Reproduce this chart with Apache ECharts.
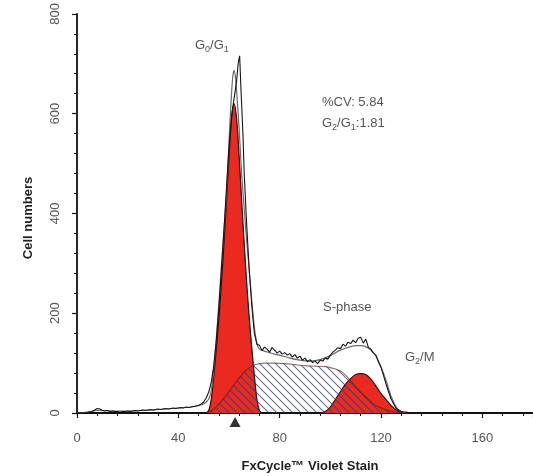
<!DOCTYPE html>
<html><head><meta charset="utf-8">
<script src="https://cdn.jsdelivr.net/npm/echarts@6/dist/echarts.min.js"></script>
<style>html,body{margin:0;padding:0;background:#fff}#c{width:533px;height:476px}</style>
</head><body><div id="c"></div>
<script>
// ---- data ----
const rawData = [[0,0],[2,0],[4,1],[5,2],[6,3],[7,6],[8,9],[9,8],[10,5],[11,4],[12,5],[13,3],[14,4],[15,3],[16,3],[17,2],[18,3],[19,3],[20,4],[21,3],[22,4],[23,5],[24,4],[25,5],[26,6],[27,5],[28,6],[29,7],[30,6],[31,7],[32,8],[33,7],[34,8],[35,9],[36,8],[37,9],[38,10],[39,9],[40,10],[41,11],[42,10],[43,12],[44,11],[45,12],[46,13],[47,14],[48,15],[49,18],[50,22],
[51,30],[52,42],[53,62],[54,95],[55,145],[56,210],[57,285],[58,365],[59,450],[60,530],[61,595],[62,630],[63,665],[63.6,700],[64.2,716],[64.8,640],[65.5,560],[66,480],[67,375],[68,285],[69,215],[70,160],[71,138],
[72,136],[73,125],[74,132],[75,128],[76,122],[77,131],[78,126],[79,120],[80,124],[81,118],[82,121],[83,116],[84,119],[85,112],[86,117],[87,110],[88,114],[89,106],[90,110],[91,103],[92,107],[93,101],[94,104],[95,99],[96,106],[97,104],[98,110],[99,108],[100,116],[101,122],[102,126],[103,131],[104,129],[105,138],[106,134],[107,142],[108,139],[109,146],[110,141],[111,150],[112,152],[113,140],[114,148],[115,132],[116,128],[117,120],[118,116],[119,102],[120,92],[121,75],[122,58],[123,42],[124,28],[125,18],[126,9],[127,5],[128,3],[129,2],[130,2],[131,1],[132,0]];

const modelFit = [[0,0],[4,2],[8,5],[10,5],[15,4],[20,4],[25,5],[30,6],[35,8],[40,10],[45,12],[48,15],[50,18],[51,22],[52,28],[53,45],[54,90],[55,150],[56,220],[57,295],[58,365],[59,440],[60,545],[61,640],[61.5,675],[62,687],[62.5,675],[63,645],[64,570],[65,478],[66,410],[67,345],[68,285],[69,225],[70,172],[71,140],[72,128],[74,124],[76,121],[78,118],[80,116],[84,110],[88,106],[92,104],[96,107],[100,115],[104,126],[108,133],[110,135],[112,135],[114,133],[116,126],[118,114],[120,92],[122,65],[124,33],[126,12],[128,3],[130,0]];

const g1Peak = [[51,0],[52,5],[53,28],[54,75],[55,130],[56,190],[57,260],[58,340],[59,425],[60,515],[61,590],[62,620],[63,590],[64,515],[65,425],[66,340],[67,260],[68,190],[69,130],[70,75],[71,28],[72,5],[73,0]];

const sPhase = [[50,0],[52,2],[54,8],[56,18],[58,30],[60,43],[62,57],[64,70],[66,82],[68,91],[70,96],[72,99],[74,100],[78,100],[82,99],[86,97],[90,95],[94,94],[98,93],[100,91],[102,88],[104,84],[106,76],[108,65],[110,53],[112,42],[114,32],[116,23],[118,15],[120,10],[122,6],[124,3],[126,1],[128,0]];

const g2Peak = [[96,0],[98,3],[100,12],[102,27],[104,43],[106,58],[108,69],[110,77],[112,79],[114,77],[116,68],[118,54],[120,39],[122,27],[124,15],[126,6],[128,1],[130,0]];

const markerX = 62.4;
const xRange = [0, 180, 40];
const yRange = [0, 800, 200];
const cvText = '%CV: 5.84';
const ratioText = '1.81';

// ---- chart ----
function hatch(){
  const s = 8, c = document.createElement('canvas');
  c.width = s; c.height = s;
  const g = c.getContext('2d');
  g.strokeStyle = 'rgba(55,60,100,0.75)'; g.lineWidth = 1.1;
  g.beginPath();
  g.moveTo(-1,-1); g.lineTo(s+1,s+1);
  g.moveTo(-1,s-1); g.lineTo(1,s+1);
  g.moveTo(s-1,-1); g.lineTo(s+1,1);
  g.stroke();
  return c;
}
const FONT = '"Liberation Sans", Arial, sans-serif';
const chart = echarts.init(document.getElementById('c'), null, {renderer:'canvas'});
const txt = '#555';
const sub = (extra)=>Object.assign({fontSize:9, fill:txt, fontFamily:FONT, verticalAlign:'bottom', lineHeight:18, padding:[5,0,0,0]}, extra||{});
const main = {fontSize:13, fill:txt, fontFamily:FONT, lineHeight:18};

chart.setOption({
  animation:false,
  backgroundColor:'#fff',
  grid:{left:77, right:0, top:10, bottom:63, containLabel:false},
  xAxis:{type:'value', min:xRange[0], max:xRange[1], interval:xRange[2],
    axisLine:{show:true, onZero:false, lineStyle:{color:'#111', width:1.8}},
    axisTick:{show:true, length:5, lineStyle:{color:'#111', width:1.2}},
    minorTick:{show:true, splitNumber:5, length:3, lineStyle:{color:'#111', width:1}},
    splitLine:{show:false},
    axisLabel:{color:txt, fontSize:13, fontFamily:FONT, margin:19, showMaxLabel:false}
  },
  yAxis:{type:'value', min:yRange[0], max:yRange[1], interval:yRange[2],
    axisLine:{show:true, lineStyle:{color:'#111', width:1.8}},
    axisTick:{show:true, length:5, lineStyle:{color:'#111', width:1.2}},
    minorTick:{show:true, splitNumber:5, length:3, lineStyle:{color:'#111', width:1}},
    splitLine:{show:false},
    axisLabel:{color:txt, fontSize:13, fontFamily:FONT, rotate:90, margin:15}
  },
  series:[
    {type:'line', name:'G0/G1', data:g1Peak, smooth:0.3, showSymbol:false, z:2,
      lineStyle:{color:'#2a0805', width:1.2}, areaStyle:{color:'#ea2a20', opacity:1}},
    {type:'line', name:'G2/M', data:g2Peak, smooth:0.3, showSymbol:false, z:2,
      lineStyle:{color:'#4a0d08', width:1.2}, areaStyle:{color:'#ea2a20', opacity:1}},
    {type:'line', name:'S-phase', data:sPhase, smooth:0.3, showSymbol:false, z:3,
      lineStyle:{color:'rgba(70,25,25,0.6)', width:1.1}, areaStyle:{color:{image:hatch(), repeat:'repeat'}, opacity:1}},
    {type:'line', name:'model', data:modelFit, smooth:0.2, showSymbol:false, z:4,
      lineStyle:{color:'#6a6a6a', width:1.2}},
    {type:'line', name:'data', data:rawData, smooth:false, showSymbol:false, z:5,
      lineStyle:{color:'#151515', width:1.1}},
    {type:'scatter', data:[[markerX,0]], symbol:'triangle', symbolSize:[11,10], symbolOffset:[0,9],
      itemStyle:{color:'#000'}, clip:false, z:6, silent:true}
  ],
  graphic:[
    {type:'text', x:195, y:36, style:{text:'{a|G}{s|0}{a|/G}{s|1}', rich:{a:main, s:sub()}}},
    {type:'text', x:322, y:96, style:{text:cvText, fontSize:13, fill:txt, fontFamily:FONT}},
    {type:'text', x:322, y:114, style:{text:'{a|G}{s|2}{a|/G}{s|1}{a|:'+ratioText+'}', rich:{a:main, s:sub()}}},
    {type:'text', x:323, y:301, style:{text:'S-phase', fontSize:13, fill:txt, fontFamily:FONT}},
    {type:'text', x:405, y:348, style:{text:'{a|G}{s|2}{a|/M}', rich:{a:main, s:sub()}}},
    {type:'text', x:310, y:466, style:{text:'FxCycle™ Violet Stain', fontSize:13, fontWeight:'bold', fill:'#222', fontFamily:FONT, textAlign:'center', textVerticalAlign:'middle', verticalAlign:'middle'}},
    {type:'text', x:28, y:218, rotation:Math.PI/2, style:{text:'Cell numbers', fontSize:13, fontWeight:'bold', fill:'#222', fontFamily:FONT, textAlign:'center', textVerticalAlign:'middle', verticalAlign:'middle'}}
  ]
});
</script></body></html>
